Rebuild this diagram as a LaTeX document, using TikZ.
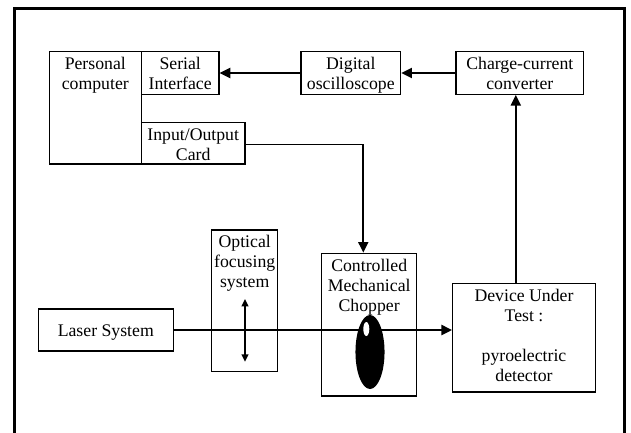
\documentclass[tikz,border=0pt]{standalone}
\usepackage{fontspec}
\setmainfont{Liberation Serif}
\usetikzlibrary{arrows.meta,fit,calc}
\tikzset{
  box/.style={draw, line width=0.9pt, inner sep=0pt},
  txt/.style={font=\fontsize{13.3}{15}\selectfont, align=center, anchor=base, inner sep=0pt},
  arr/.style={line width=1.5pt, -{Triangle[length=8pt,width=7.5pt]}},
  dbl/.style={line width=1.5pt, {Triangle[length=5.5pt,width=5pt]}-{Triangle[length=5.5pt,width=5pt]}},
  thinline/.style={line width=0.9pt},
  frame/.style={line width=2.7pt},
}
\begin{document}
\begin{tikzpicture}[x=0.75pt,y=-0.75pt]
\useasboundingbox (0,0) rectangle (631,432);
% outer frame (open at bottom)
\coordinate (f1) at (14.5,440);
\coordinate (f2) at (14.5,8.5);
\coordinate (f3) at (624.5,8.5);
\coordinate (f4) at (624.5,440);
\draw[frame] (f1) -- (f2) -- (f3) -- (f4);
% boxes
\node[box, fit={(49.3,51.7)(141.3,164)}] (pc) {};
\node[box, fit={(141.3,51.7)(219,94.3)}] (ser) {};
\node[box, fit={(141.3,122.7)(245,164)}] (io) {};
\node[box, fit={(301,51.7)(400.7,94.3)}] (dig) {};
\node[box, fit={(456,51.7)(583.7,94.3)}] (cc) {};
\node[box, fit={(38.3,309)(173.3,351)}] (laser) {};
\node[box, fit={(211.7,230)(277.7,371.7)}] (lens) {};
\node[box, fit={(321.7,253.3)(416.7,396)}] (chop) {};
\node[box, fit={(452.7,283.3)(595.3,392)}] (dut) {};
% texts (anchored at the baseline of the last line)
\node[txt] (tpc) at (95.3,89) {Personal\\computer};
\node[txt] (tser) at (180.2,89) {Serial\\Interface};
\node[txt] (tio) at (193.2,160) {Input/Output\\Card};
\node[txt] (tdig) at (350.8,89) {Digital\\oscilloscope};
\node[txt] (tcc) at (519.8,89) {Charge-current\\converter};
\node[txt] (tlaser) at (105.8,336) {Laser System};
\node[txt] (tlens) at (244.7,287) {Optical\\focusing\\system};
\node[txt] (tchop) at (369.2,311) {Controlled\\Mechanical\\Chopper};
\node[txt] (tdut) at (524,381.5) {Device Under\\Test :\\[15pt]pyroelectric\\detector};
% connectors
\draw[arr] (dig.west) -- (ser.east);
\draw[arr] (cc.west) -- (dig.east);
\draw[arr] ([xshift=-3pt]cc.south |- dut.north) -- ([xshift=-3pt]cc.south);
\coordinate (corner) at (363.3,144.3);
\draw[thinline] (io.east |- corner) -- (corner);
\draw[arr] (corner) -- (chop.north -| corner);
\draw[arr] (laser.east) -- (dut.west |- laser.east);
% lens double arrow
\coordinate (lt) at (245,299);
\coordinate (lb) at (245,361.7);
\draw[dbl] (lt) -- (lb);
% chopper blade
\fill (370,352) ellipse [x radius=10.9pt, y radius=27.75pt];
\fill[white] (366.3,329) ellipse [x radius=2.25pt, y radius=5.25pt];
\end{tikzpicture}
\end{document}
